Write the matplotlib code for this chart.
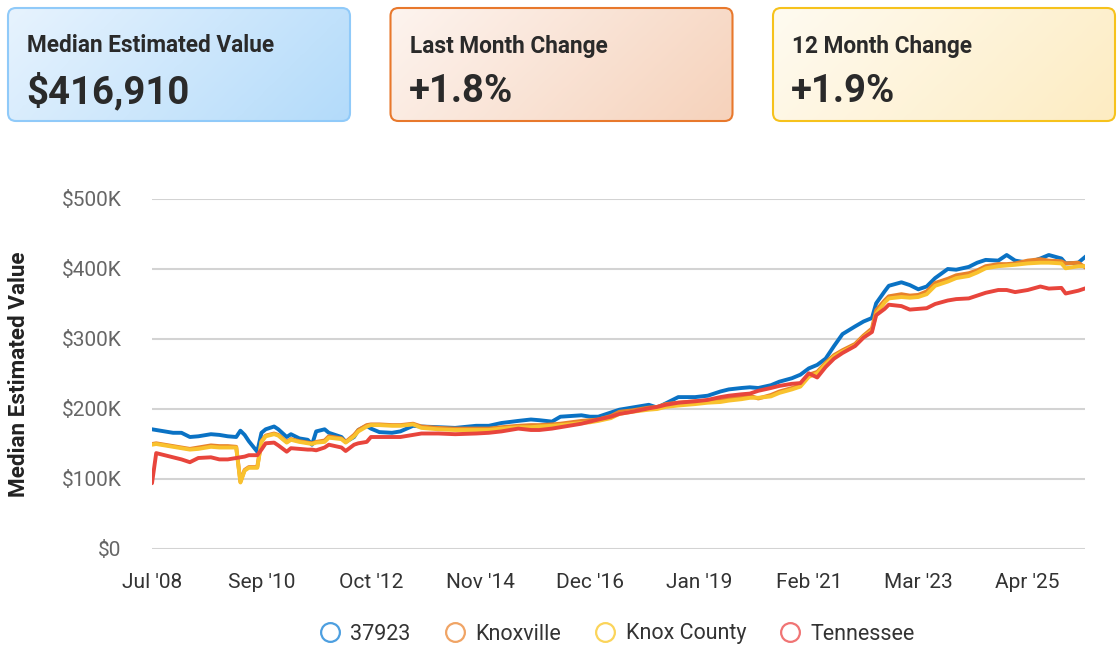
import numpy as np
import matplotlib
matplotlib.use("Agg")
import matplotlib.pyplot as plt
from matplotlib.patches import FancyBboxPatch
from matplotlib.colors import LinearSegmentedColormap
from matplotlib.lines import Line2D
from matplotlib.ticker import FuncFormatter

plt.rcParams['font.family'] = ['Roboto', 'DejaVu Sans']

W, H = 1117, 646

# months since Jul 2008
months = [0, 1, 3, 5, 7, 9, 11, 14, 16, 18,
          20, 21, 22, 23, 25, 26, 27, 29, 30, 32,
          33, 35, 37, 38, 39, 41, 42, 45, 46, 48,
          49, 51, 52, 54, 57, 59, 62, 64, 68, 72,
          77, 80, 83, 87, 90, 92, 95, 97, 102, 104,
          106, 109, 111, 114, 118, 120, 122, 125, 129, 132,
          135, 137, 140, 142, 144, 147, 149, 152, 154, 156,
          158, 160, 162, 164, 167, 169, 171, 172, 174, 175,
          178, 180, 182, 184, 186, 189, 191, 194, 196, 198,
          201, 203, 205, 208, 211, 213, 216, 217, 220, 222]

# values in $K
zip_37923 = [171, 170, 168, 166, 166, 160, 161, 164, 163, 161,
             160, 169, 163, 154, 139, 166, 171, 175, 171, 160,
             164, 158, 156, 149, 168, 171, 166, 160, 153, 160,
             170, 176, 172, 167, 166, 168, 176, 175, 174, 173,
             176, 176, 180, 183, 185, 184, 182, 189, 191, 189,
             189, 195, 199, 202, 206, 202, 208, 217, 217, 219,
             225, 228, 230, 231, 230, 234, 239, 244, 249, 258,
             263, 272, 290, 307, 318, 325, 330, 351, 368, 376,
             381, 377, 371, 375, 387, 400, 399, 403, 409, 413,
             412, 420, 412, 409, 415, 420, 415, 408, 409, 419]

knoxville = [150, 151, 149, 147, 145, 143, 145, 148, 147, 147,
             146, 96, 113, 117, 117, 154, 162, 165, 163, 153,
             157, 154, 152, 151, 153, 155, 161, 158, 153, 163,
             170, 177, 178, 178, 177, 177, 179, 175, 173, 172,
             172, 172, 174, 176, 177, 177, 178, 179, 183, 184,
             185, 190, 196, 198, 202, 203, 207, 209, 211, 211,
             212, 215, 217, 219, 215, 220, 225, 230, 234, 249,
             253, 266, 277, 284, 293, 305, 315, 341, 355, 361,
             364, 362, 363, 368, 380, 386, 391, 394, 398, 404,
             407, 407, 408, 412, 414, 412, 411, 408, 409, 401]

knox_county = [149, 150, 148, 146, 144, 142, 143, 146, 145, 145,
               145, 95, 112, 116, 116, 153, 161, 164, 162, 152,
               156, 153, 151, 150, 152, 153, 159, 157, 152, 161,
               168, 175, 177, 177, 176, 176, 178, 173, 171, 170,
               170, 170, 172, 174, 174, 175, 176, 177, 180, 181,
               183, 187, 193, 196, 199, 200, 203, 205, 207, 209,
               210, 212, 214, 216, 216, 218, 223, 228, 232, 246,
               251, 264, 275, 282, 291, 303, 312, 336, 352, 358,
               360, 359, 360, 364, 376, 382, 387, 390, 395, 401,
               404, 405, 406, 408, 409, 409, 408, 401, 404, 404]

tennessee = [94, 137, 134, 131, 128, 124, 130, 131, 128, 128,
             130, 131, 132, 134, 134, 142, 151, 152, 148, 139,
             144, 143, 142, 142, 141, 145, 149, 145, 140, 149,
             151, 153, 160, 160, 160, 160, 163, 165, 165, 164,
             165, 166, 168, 172, 170, 170, 172, 174, 179, 182,
             185, 189, 193, 196, 201, 203, 206, 209, 211, 213,
             217, 219, 221, 222, 226, 230, 233, 236, 237, 251,
             245, 260, 272, 280, 290, 302, 310, 334, 343, 349,
             347, 342, 343, 344, 350, 355, 357, 358, 362, 366,
             370, 370, 367, 370, 375, 372, 373, 365, 369, 373]

series_names = ["37923", "Knoxville", "Knox County", "Tennessee"]
series_vals = [zip_37923, knoxville, knox_county, tennessee]
line_colors = ["#0a72c4", "#e8822a", "#f9c22e", "#e8453c"]
legend_colors = ["#4d9fe0", "#f0a465", "#fbd45a", "#f07474"]

tick_months = [0, 26, 52, 78, 104, 130, 156, 182, 208]
tick_labels = ["Jul '08", "Sep '10", "Oct '12", "Nov '14", "Dec '16",
               "Jan '19", "Feb '21", "Mar '23", "Apr '25"]

cards = [("Median Estimated Value", "$416,910"),
         ("Last Month Change", "+1.8%"),
         ("12 Month Change", "+1.9%")]
card_styles = [("#e7f3fe", "#b3dbfa", "#90caf9"),
               ("#fdf4ef", "#f6d2bb", "#e8782c"),
               ("#fffbf1", "#fdecc2", "#f6c21c")]

fig = plt.figure(figsize=(W / 100, H / 100), dpi=100)

# ---- cards
ov = fig.add_axes([0, 0, 1, 1])
ov.set_xlim(0, W)
ov.set_ylim(H, 0)
ov.axis("off")

gx, gy = np.meshgrid(np.linspace(0, 1, 200), np.linspace(0, 1, 60))
grad = (gx * 0.75 + gy * 0.25)
for i, ((title, value), (c0, c1, ec)) in enumerate(zip(cards, card_styles)):
    x0 = 8 + i * 382.5
    w, y0, h = 342, 8, 113
    box = FancyBboxPatch((x0, y0), w, h,
                         boxstyle="round,pad=0,rounding_size=8",
                         fc="none", ec=ec, lw=1.5, zorder=3)
    ov.add_patch(box)
    cmap = LinearSegmentedColormap.from_list("c%d" % i, [c0, c1])
    im = ov.imshow(grad, cmap=cmap, extent=(x0, x0 + w, y0 + h, y0),
                   aspect="auto", zorder=1, interpolation="bilinear")
    im.set_clip_path(box)
    ov.text(x0 + 19, 46, title, fontsize=16.3, fontweight="bold",
            color="#2a2a2a", va="center", zorder=4)
    ov.text(x0 + 18, 92, value, fontsize=27.5, fontweight="bold",
            color="#2a2a2a", va="center", zorder=4)
ov.set_xlim(0, W)
ov.set_ylim(H, 0)

# ---- chart
ax = fig.add_axes([152 / W, 1 - 549 / H, (1085 - 152) / W, 350 / H])
for name, vals, col in zip(series_names, series_vals, line_colors):
    ax.plot(months, vals, color=col, lw=2.8, solid_joinstyle="round",
            solid_capstyle="round", label=name)

ax.set_xlim(0, 221.6)
ax.set_ylim(0, 500)
ax.set_yticks([0, 100, 200, 300, 400, 500])
ax.yaxis.set_major_formatter(FuncFormatter(
    lambda v, _: "$0" if v == 0 else "$%dK" % v))
ax.set_xticks(tick_months)
ax.set_xticklabels(tick_labels)
ax.grid(axis="y", color="#d3d3d3", lw=1.5)
ax.set_axisbelow(True)
for s in ax.spines.values():
    s.set_visible(False)
ax.tick_params(axis="y", length=0, pad=22, labelsize=15, labelcolor="#666666")
ax.tick_params(axis="x", length=0, pad=17, labelsize=15, labelcolor="#333333")
ax.set_ylabel("Median Estimated Value", fontsize=16.2, fontweight="bold",
              color="#222222", labelpad=23)

handles = [Line2D([], [], ls="none", marker="o", markersize=13.5,
                  markerfacecolor="none", markeredgecolor=c, markeredgewidth=1.6)
           for c in legend_colors]
fig.legend(handles, series_names, loc="center", ncol=4, frameon=False,
           bbox_to_anchor=(616 / W, 1 - 634 / H), fontsize=15.5,
           handlelength=1.2, handletextpad=0.35, columnspacing=1.45,
           labelcolor="#333333")

fig.savefig("out.png", dpi=100)
